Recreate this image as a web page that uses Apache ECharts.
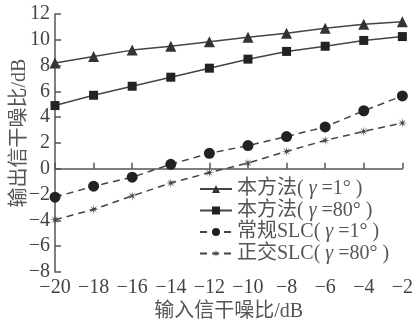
<!DOCTYPE html>
<html>
<head>
<meta charset="utf-8">
<script src="https://cdn.jsdelivr.net/npm/echarts@6/dist/echarts.min.js"></script>
<style>html,body{margin:0;padding:0;background:#fff}#c{width:416px;height:327px}</style>
</head>
<body>
<div id="c"></div>
<script>
const xValues = [-20, -18, -16, -14, -12, -10, -8, -6, -4, -2];
const seriesNames = ['本方法( γ =1° )', '本方法( γ =80° )', '常规SLC( γ =1° )', '正交SLC( γ =80° )'];
const proposed1 = [8.2, 8.7, 9.2, 9.5, 9.85, 10.2, 10.5, 10.9, 11.2, 11.4];
const proposed80 = [4.9, 5.7, 6.4, 7.1, 7.8, 8.5, 9.1, 9.5, 9.95, 10.25];
const conventional1 = [-2.2, -1.35, -0.65, 0.35, 1.2, 1.8, 2.5, 3.25, 4.5, 5.65];
const orthogonal80 = [-3.95, -3.15, -2.1, -1.1, -0.3, 0.45, 1.35, 2.2, 2.9, 3.55];
const xAxisName = '输入信干噪比/dB';
const yAxisName = '输出信干噪比/dB';

// asterisk-like star symbol
function starPath(n, rOut, rIn) {
  let d = '';
  for (let i = 0; i < 2 * n; i++) {
    const r = i % 2 === 0 ? rOut : rIn;
    const a = Math.PI * i / n - Math.PI / 2;
    d += (i === 0 ? 'M' : 'L') + (r * Math.cos(a)).toFixed(3) + ',' + (r * Math.sin(a)).toFixed(3);
  }
  return 'path://' + d + 'Z';
}
const asterisk = starPath(8, 10, 2.5);

const font = "'Liberation Serif', 'Times New Roman', 'Noto Sans CJK SC', serif";
const fmt = v => String(v).replace('-', '\u2212');
const pair = arr => xValues.map((x, i) => [x, arr[i]]);
const legendFmt = name => name.replace('γ', '{i|γ}');

const chart = echarts.init(document.getElementById('c'), null, {renderer: 'canvas'});
chart.setOption({
  animation: false,
  backgroundColor: '#fff',
  grid: {left: 55, right: 12, top: 14, bottom: 52},
  legend: {
    orient: 'vertical', left: 194, top: 174,
    itemWidth: 32, itemHeight: 10, itemGap: 1.5,
    formatter: legendFmt,
    textStyle: {fontFamily: font, fontSize: 20, color: '#555', lineHeight: 20,
      rich: {i: {fontFamily: font, fontSize: 20, fontStyle: 'italic', color: '#555'}}},
    data: seriesNames
  },
  xAxis: {
    type: 'value', min: -20, max: -2, interval: 2,
    name: xAxisName, nameLocation: 'middle', nameGap: 30, nameMoveOverlap: false,
    nameTextStyle: {fontFamily: font, fontSize: 20, color: '#555'},
    axisLine: {lineStyle: {color: '#555', width: 1.5}},
    axisTick: {inside: true, length: 6, lineStyle: {color: '#555', width: 1.5}},
    axisLabel: {fontFamily: font, fontSize: 20, color: '#444', margin: 6, formatter: fmt},
    splitLine: {show: false}
  },
  yAxis: {
    type: 'value', min: -8, max: 12, interval: 2,
    name: yAxisName, nameLocation: 'middle', nameGap: 25, nameMoveOverlap: false,
    nameTextStyle: {fontFamily: font, fontSize: 20, color: '#555', padding: [0, 0, 0, 20]},
    axisLine: {show: true, lineStyle: {color: '#555', width: 1.5}},
    axisTick: {show: true, inside: true, length: 6, lineStyle: {color: '#555', width: 1.5}},
    axisLabel: {fontFamily: font, fontSize: 20, color: '#444', margin: 5, formatter: fmt},
    splitLine: {show: false}
  },
  series: [
    {name: seriesNames[0], type: 'line', data: pair(proposed1), symbol: 'triangle', symbolSize: 11,
     lineStyle: {color: '#444', width: 1.5}, itemStyle: {color: '#333'}},
    {name: seriesNames[1], type: 'line', data: pair(proposed80), symbol: 'rect', symbolSize: 9,
     lineStyle: {color: '#444', width: 1.5}, itemStyle: {color: '#222'}},
    {name: seriesNames[2], type: 'line', data: pair(conventional1), symbol: 'circle', symbolSize: 11,
     lineStyle: {color: '#444', width: 1.5, type: [7, 5]}, itemStyle: {color: '#222'}},
    {name: seriesNames[3], type: 'line', data: pair(orthogonal80), symbol: asterisk, symbolSize: 10,
     lineStyle: {color: '#444', width: 1.5, type: [7, 5]}, itemStyle: {color: '#444'}}
  ]
});
</script>
</body>
</html>
